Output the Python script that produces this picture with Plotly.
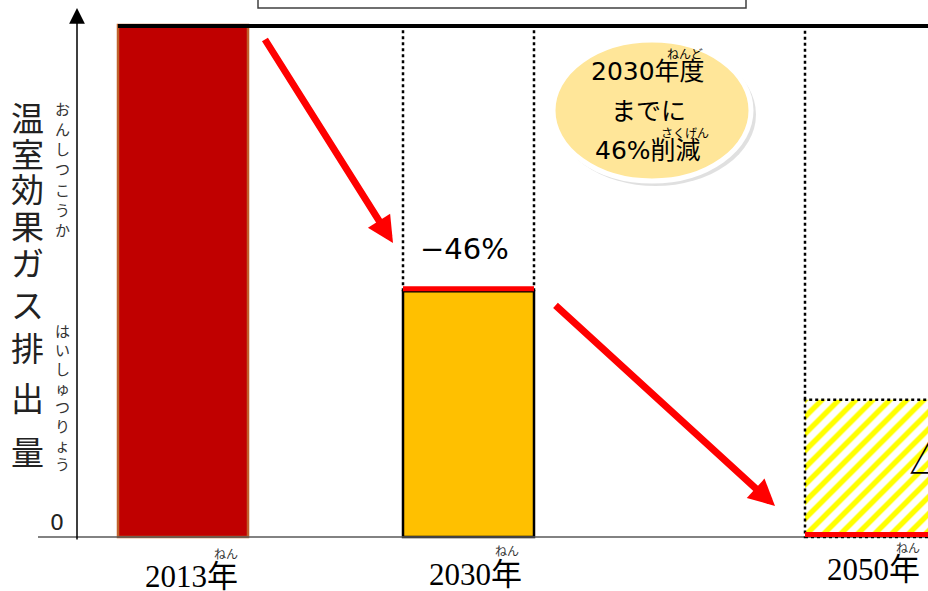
import plotly.graph_objects as go

# ---------------- data ----------------
years = ["2013年", "2030年", "2050年"]
year_ruby = ["ねん", "ねん", "ねん"]
emissions = [100, 48, 26.8]          # relative greenhouse-gas emissions (2013 = 100)
reduction_label = "−46%"
axis_title = "温室効果ガス排出量"
axis_ruby_1 = "おんしつこうか"
axis_ruby_2 = "はいしゅつりょう"
callout_lines = ["2030年度", "までに", "46%削減"]
callout_ruby = ["ねんど", "さくげん"]

# ---------------- layout constants ----------------
W, H = 928, 591
Y0_PX, Y100_PX = 537, 25
scale = (Y0_PX - Y100_PX) / 100.0
ymax = 100 + Y100_PX / scale
ymin = -(H - Y0_PX) / scale


def py(p):
    """pixel row -> data value"""
    return (Y0_PX - p) / scale


bar_left = [118, 403, 805]
bar_width = [130, 131, 130]
centers = [l + w / 2 for l, w in zip(bar_left, bar_width)]

GOTHIC = "Noto Sans CJK JP, Noto Sans, sans-serif"
ROUND = "DejaVu Sans, Noto Sans CJK JP, sans-serif"
SERIF = "Liberation Serif, DejaVu Serif, Noto Sans CJK JP, serif"

fig = go.Figure()
fig.add_trace(go.Bar(
    x=centers, y=emissions, width=bar_width,
    marker=dict(
        color=["#C00000", "#FFC000", "#FFFF00"],
        line=dict(color=["#C0622B", "#000000", "rgba(0,0,0,0)"], width=[2.5, 2.5, 0]),
        pattern=dict(shape=["", "", "/"], size=12, solidity=0.45, fillmode="replace"),
    ),
    hoverinfo="skip",
))

shapes = []
# top box (cropped)
shapes.append(dict(type="rect", xref="x", yref="y", x0=258, x1=746, y0=py(8), y1=py(-20),
                   line=dict(color="#404040", width=1.5), fillcolor="rgba(0,0,0,0)"))
# baseline
shapes.append(dict(type="line", xref="x", yref="y", x0=38, x1=W + 5, y0=0, y1=0,
                   line=dict(color="#595959", width=1.5)))
# top reference line at 2013 level
shapes.append(dict(type="line", xref="x", yref="y", x0=bar_left[0], x1=W + 5,
                   y0=py(26), y1=py(26), line=dict(color="black", width=4)))
# dotted guide lines
for xv, yb in [(bar_left[1], emissions[1]), (bar_left[1] + bar_width[1], emissions[1]),
               (bar_left[2], emissions[2])]:
    shapes.append(dict(type="line", xref="x", yref="y", x0=xv, x1=xv, y0=yb, y1=py(28),
                       line=dict(color="black", width=2.5, dash="dot")))
# dotted outline of 2050 bar
shapes.append(dict(type="rect", xref="x", yref="y", x0=bar_left[2], x1=bar_left[2] + bar_width[2],
                   y0=0, y1=emissions[2], line=dict(color="black", width=2.5, dash="dot"),
                   fillcolor="rgba(0,0,0,0)"))
# red lines
shapes.append(dict(type="line", xref="x", yref="y", x0=bar_left[1], x1=bar_left[1] + bar_width[1],
                   y0=emissions[1] + 0.5, y1=emissions[1] + 0.5, line=dict(color="#FF0000", width=5)))
shapes.append(dict(type="line", xref="x", yref="y", x0=bar_left[2], x1=W + 5,
                   y0=py(534.5), y1=py(534.5), line=dict(color="#FF0000", width=5)))
# callout ellipse (shadow + body)
shapes.append(dict(type="circle", xref="x", yref="y", x0=555, x1=756, y0=py(186), y1=py(43),
                   line=dict(width=0), fillcolor="rgba(0,0,0,0.12)"))
shapes.append(dict(type="circle", xref="x", yref="y", x0=553, x1=751, y0=py(181), y1=py(40),
                   line=dict(color="white", width=5), fillcolor="#FFE699"))

ann = []
# y axis arrow
ann.append(dict(x=77, y=py(8), ax=77, ay=py(541), xref="x", yref="y", axref="x", ayref="y",
                text="", showarrow=True, arrowhead=2, arrowsize=2.1, arrowwidth=1.5,
                arrowcolor="black"))
# red arrows
ann.append(dict(x=393, y=py(243), ax=264, ay=py(38), xref="x", yref="y", axref="x", ayref="y",
                text="", showarrow=True, arrowhead=2, arrowsize=0.75, arrowwidth=7,
                arrowcolor="#FF0000"))
ann.append(dict(x=775, y=py(506), ax=554, ay=py(304), xref="x", yref="y", axref="x", ayref="y",
                text="", showarrow=True, arrowhead=2, arrowsize=0.75, arrowwidth=7,
                arrowcolor="#FF0000"))

# axis title (vertical)
title_y = [117, 153, 188, 225, 262, 304, 347, 397, 451]
for ch, yp in zip(axis_title, title_y):
    ann.append(dict(x=27, y=py(yp), xref="x", yref="y", text=ch, showarrow=False,
                    font=dict(family=GOTHIC, size=33, color="#222222")))
for i, ch in enumerate(axis_ruby_1):
    ann.append(dict(x=62, y=py(108 + i * 20.3), xref="x", yref="y", text=ch, showarrow=False,
                    font=dict(family=GOTHIC, size=15, color="#333333")))
for i, ch in enumerate(axis_ruby_2):
    ann.append(dict(x=62, y=py(330 + i * 19), xref="x", yref="y", text=ch, showarrow=False,
                    font=dict(family=GOTHIC, size=15, color="#333333")))
# zero label
ann.append(dict(x=57, y=py(522), xref="x", yref="y", text="0", showarrow=False,
                font=dict(family=ROUND, size=22, color="#222222")))

# category labels with ruby
label_pos = [(191, 576, 226, 553), (475, 574, 507, 550), (873, 569, 908, 547)]
for yr, rb, (lx, ly, rx, ry) in zip(years, year_ruby, label_pos):
    ann.append(dict(x=lx, y=py(ly), xref="x", yref="y", text=yr, showarrow=False,
                    font=dict(family=SERIF, size=31, color="black")))
    ann.append(dict(x=rx, y=py(ry), xref="x", yref="y", text=rb, showarrow=False,
                    font=dict(family=GOTHIC, size=12, color="#333333")))

# reduction label
ann.append(dict(x=464, y=py(249), xref="x", yref="y", text=reduction_label, showarrow=False,
                font=dict(family=ROUND, size=29, color="black")))
# partially visible label for 2050
ann.append(dict(x=907, y=py(455), xref="x", yref="y", text="△", showarrow=False, xanchor="left",
                font=dict(family=GOTHIC, size=44, color="black")))

# callout text
for txt, yp in zip(callout_lines, [71, 111, 150]):
    ann.append(dict(x=648, y=py(yp), xref="x", yref="y", text=txt, showarrow=False,
                    font=dict(family=ROUND, size=25, color="black")))
ann.append(dict(x=685, y=py(53), xref="x", yref="y", text=callout_ruby[0], showarrow=False,
                font=dict(family=GOTHIC, size=12, color="black")))
ann.append(dict(x=685, y=py(132), xref="x", yref="y", text=callout_ruby[1], showarrow=False,
                font=dict(family=GOTHIC, size=12, color="black")))

fig.update_layout(
    width=W, height=H, margin=dict(l=0, r=0, t=0, b=0),
    plot_bgcolor="white", paper_bgcolor="white", showlegend=False,
    xaxis=dict(range=[0, W], visible=False, fixedrange=True),
    yaxis=dict(range=[ymin, ymax], visible=False, fixedrange=True),
    shapes=shapes, annotations=ann,
)

fig.write_html("out.html", config={"displayModeBar": False},
               post_script="document.body.style.margin='0';document.body.style.overflow='hidden';")
